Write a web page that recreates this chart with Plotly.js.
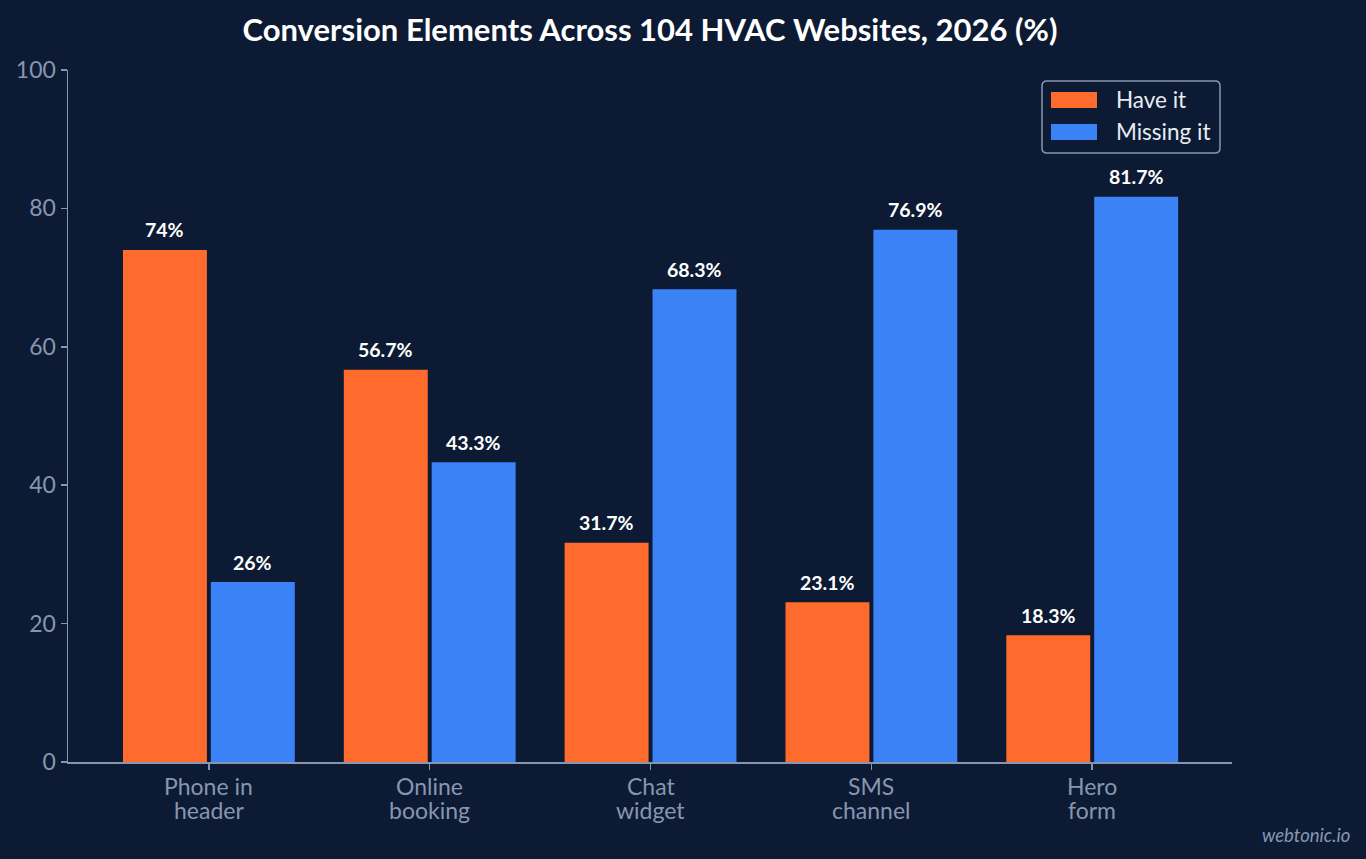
<!DOCTYPE html>
<html>
<head>
<meta charset="utf-8">
<script src="https://cdn.plot.ly/plotly-3.0.1.min.js"></script>
<style>
  html, body { margin: 0; padding: 0; background: #0c1b33; }
  #chart { width: 1366px; height: 859px; }
</style>
</head>
<body>
<div id="chart"></div>
<script>
// Share of sites with / without each conversion element
const categories = ['Phone in<br>header', 'Online<br>booking', 'Chat<br>widget', 'SMS<br>channel', 'Hero<br>form'];
const haveIt = [74, 56.7, 31.7, 23.1, 18.3];
const missingIt = [26, 43.3, 68.3, 76.9, 81.7];
const seriesNames = ['Have it', 'Missing it'];

const BG = '#0c1b33';
const ORANGE = '#ff6b2c';
const BLUE = '#3b82f6';
const SLATE = '#8796b0';
const FONT = 'Lato, "Open Sans", sans-serif';
const SERIES_COLORS = [ORANGE, BLUE];

const traces = [haveIt, missingIt].map((vals, s) => ({
  type: 'bar', name: seriesNames[s], x: categories, y: vals,
  marker: { color: SERIES_COLORS[s] }, hoverinfo: 'skip', showlegend: false
}));

const annotations = [];
const shapes = [];

// Value labels above each bar
[haveIt, missingIt].forEach((vals, s) => {
  vals.forEach((v, i) => {
    annotations.push({
      x: categories[i], y: v, xref: 'x', yref: 'y',
      text: '<b>' + v + '%</b>', showarrow: false,
      xshift: s === 0 ? -44 : 44, yshift: 20, yanchor: 'middle',
      font: { family: FONT, size: 19.5, color: '#ffffff' }
    });
  });
});

// Category labels, one annotation per line for tight line spacing
categories.forEach(c => {
  c.split('<br>').forEach((line, j) => {
    annotations.push({
      x: c, y: 0, xref: 'x', yref: 'paper',
      text: line, showarrow: false, yanchor: 'middle',
      yshift: -24 - 23.5 * j,
      font: { family: FONT, size: 23, color: SLATE }
    });
  });
});

// Legend box drawn in pixels from the top-right corner of the plot area
shapes.push({
  type: 'path', xref: 'paper', yref: 'paper',
  xsizemode: 'pixel', ysizemode: 'pixel', xanchor: 1, yanchor: 1,
  path: 'M -185,-11 L -17,-11 Q -12,-11 -12,-16 L -12,-78 Q -12,-83 -17,-83 ' +
        'L -185,-83 Q -190,-83 -190,-78 L -190,-16 Q -190,-11 -185,-11 Z',
  line: { color: SLATE, width: 1.5 }, fillcolor: BG
});
seriesNames.forEach((name, s) => {
  const top = -22 - 32 * s;
  shapes.push({
    type: 'rect', xref: 'paper', yref: 'paper',
    xsizemode: 'pixel', ysizemode: 'pixel', xanchor: 1, yanchor: 1,
    x0: -181, x1: -135, y0: top, y1: top - 16,
    line: { width: 0 }, fillcolor: SERIES_COLORS[s]
  });
  annotations.push({
    x: 1, y: 1, xref: 'paper', yref: 'paper',
    xanchor: 'left', yanchor: 'middle', xshift: -118, yshift: top - 7,
    text: name, showarrow: false,
    font: { family: FONT, size: 22.5, color: '#e8edf5' }
  });
});

// Site credit
annotations.push({
  x: 1, y: 0, xref: 'paper', yref: 'paper',
  xanchor: 'right', yanchor: 'middle', xshift: 120, yshift: -73,
  text: '<i>webtonic.io</i>', showarrow: false,
  font: { family: FONT, size: 18.5, color: SLATE }
});

const layout = {
  width: 1366, height: 859,
  paper_bgcolor: BG, plot_bgcolor: BG,
  margin: { l: 68, r: 134, t: 70, b: 97 },
  font: { family: FONT, color: SLATE, size: 23 },
  title: {
    text: '<b>Conversion Elements Across 104 HVAC Websites, 2026 (%)</b>',
    font: { family: FONT, size: 31, color: '#ffffff' },
    x: 0.5, xref: 'paper', xanchor: 'center',
    y: 1 - 30 / 859, yref: 'container', yanchor: 'middle'
  },
  barmode: 'group', bargap: 0.204, bargroupgap: 0.045,
  xaxis: {
    type: 'category', range: [-0.638, 4.633],
    showline: true, linecolor: SLATE, linewidth: 1.5,
    ticks: 'outside', ticklen: 6, tickcolor: SLATE, tickwidth: 1.5,
    showticklabels: false,
    showgrid: false, zeroline: false, fixedrange: true
  },
  yaxis: {
    range: [0, 100], dtick: 20, tick0: 0,
    showline: true, linecolor: SLATE, linewidth: 1.5,
    ticks: 'outside', ticklen: 6, tickcolor: SLATE, tickwidth: 1.5,
    tickfont: { family: FONT, size: 23, color: SLATE },
    showgrid: false, zeroline: false, fixedrange: true
  },
  showlegend: false,
  shapes: shapes,
  annotations: annotations
};

Plotly.newPlot('chart', traces, layout, { displayModeBar: false, staticPlot: true });
</script>
</body>
</html>
